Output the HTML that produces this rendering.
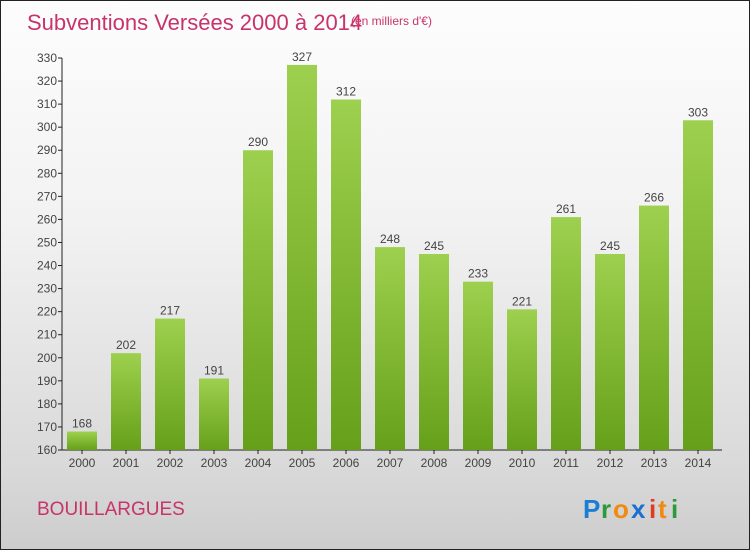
<!DOCTYPE html>
<html><head><meta charset="utf-8"><style>
html,body{margin:0;padding:0}
body{width:750px;height:550px;overflow:hidden;font-family:"Liberation Sans",sans-serif}
#wrap{position:absolute;left:0;top:0;width:748px;height:548px;border:1px solid #222;background:linear-gradient(#fdfdfd,#f2f2f2 40%,#d9d9d9 85%,#cdcdcd)}
</style></head><body>
<div id="wrap">
<svg width="748" height="548" xmlns="http://www.w3.org/2000/svg">
<defs><linearGradient id="bg" x1="0" y1="0" x2="0" y2="1"><stop offset="0" stop-color="#9dd04e"/><stop offset="1" stop-color="#66a01a"/></linearGradient></defs>
<text x="26" y="29" font-size="22" fill="#c8336a">Subventions Versées 2000 à 2014</text>
<text x="350" y="24" font-size="12" fill="#c8336a">(en milliers d'€)</text>
<g id="axes"></g><g id="bars"></g>
<text x="36" y="514" font-size="19" fill="#c8336a">BOUILLARGUES</text>
<g font-size="26" font-weight="bold">
<text x="582" y="517" fill="#1a7fd4">P</text><text x="600" y="517" fill="#2a9a3a">r</text><text x="612" y="517" fill="#f08a10">o</text><text x="630" y="517" fill="#1a6fd0">x</text><text x="648" y="517" fill="#e03a20">i</text><text x="657" y="517" fill="#f08a10">t</text><text x="670" y="517" fill="#2a9a3a">i</text>
</g>
</svg></div>
<script>
const categories=["2000","2001","2002","2003","2004","2005","2006","2007","2008","2009","2010","2011","2012","2013","2014"];
const values=[168,202,217,191,290,327,312,248,245,233,221,261,245,266,303];
const ticks=[160,170,180,190,200,210,220,230,240,250,260,270,280,290,300,310,320,330];
const NS="http://www.w3.org/2000/svg";
const y0=449,y1=57,vmin=160,vmax=330,xl=61,step=44,x0=81,bw=30;
const y=v=>y0-(v-vmin)/(vmax-vmin)*(y0-y1);
const x=i=>x0+i*step;
function mk(t,a,p){const e=document.createElementNS(NS,t);for(const k in a)e.setAttribute(k,a[k]);p.appendChild(e);return e;}
const ax=document.getElementById('axes'),bs=document.getElementById('bars');
const yl=mk('line',{x1:xl,y1:y(vmax),x2:xl,y2:y0,stroke:'#222'},ax);


const xline=mk('line',{x1:xl,y1:y0,x2:721,y2:y0,stroke:'#222'},ax);


ticks.forEach(t=>{
 mk('line',{x1:xl-4,y1:y(t),x2:xl,y2:y(t),stroke:'#222'},ax);
 const tx=mk('text',{x:xl-5,y:y(t)+4,'font-size':12,fill:'#444','text-anchor':'end'},ax);
 tx.textContent=t;
 
 
});
categories.forEach((c,i)=>{
 const r=mk('rect',{x:x(i)-bw/2,y:y(values[i]),width:bw,height:y0-y(values[i]),fill:'url(#bg)'},bs);
 
 
 const lb=mk('text',{x:x(i),y:y(values[i])-4,'font-size':12,fill:'#444','text-anchor':'middle'},bs);
 lb.textContent=values[i];
 
 
 mk('line',{x1:x(i),y1:y0,x2:x(i),y2:y0+4,stroke:'#222'},ax);
 const xt=mk('text',{x:x(i),y:y0+17,'font-size':12,fill:'#444','text-anchor':'middle'},ax);
 xt.textContent=c;
 
 
});
</script>
</body></html>
